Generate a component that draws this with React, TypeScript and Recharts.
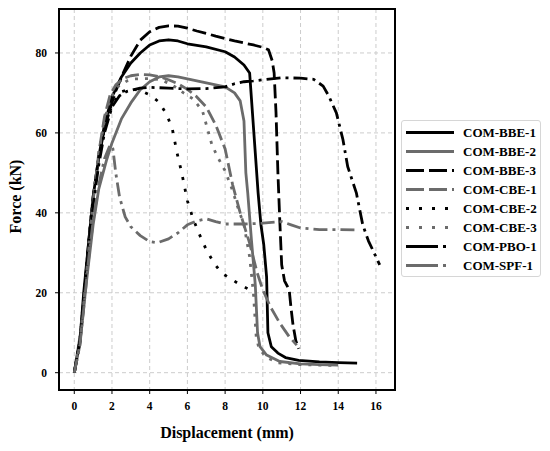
import { LineChart, Line, XAxis, YAxis, CartesianGrid, ReferenceArea } from "recharts"

// [displacement mm, force kN]
const BBE_1: [number, number][] = [
  [0, 0], [0.3, 8], [0.5, 20], [0.75, 32], [1.0, 44], [1.3, 54], [1.6, 62], [2.0, 69],
  [2.5, 74], [3.0, 77.5], [3.5, 80], [4.0, 82], [4.5, 83], [5.0, 83.3], [5.5, 83],
  [6.0, 82.3], [7.0, 81.5], [8.0, 80.3], [8.5, 79], [9.0, 77], [9.3, 75], [9.45, 65],
  [9.6, 55], [9.75, 45], [9.9, 37], [10.05, 32], [10.2, 24], [10.27, 10], [10.45, 6.5],
  [10.8, 4.9], [11.2, 3.8], [11.9, 3.1], [13, 2.7], [14, 2.5], [15, 2.4],
]
const BBE_2: [number, number][] = [
  [0, 0], [0.4, 12], [0.7, 25], [1.0, 37], [1.3, 46], [1.7, 53], [2.0, 57.5], [2.5, 63.5],
  [3.0, 67.5], [3.5, 70.8], [4.0, 72.8], [4.5, 74], [5.0, 74.3], [5.5, 74], [6.0, 73.5],
  [7.0, 72.5], [8.0, 71.5], [8.5, 70], [8.8, 68], [9.0, 63], [9.1, 50], [9.2, 45],
  [9.4, 33], [9.6, 22], [9.72, 10], [9.85, 6.5], [10.2, 4.4], [10.9, 2.8], [12, 2.2],
  [13, 2.0], [14, 1.9],
]
const BBE_3: [number, number][] = [
  [0, 0], [0.3, 8], [0.5, 18], [0.75, 32], [1.0, 44], [1.3, 54], [1.6, 61], [1.9, 66],
  [2.2, 70.5], [2.6, 75], [3.0, 79.2], [3.5, 83.2], [4.0, 85.3], [4.5, 86.4], [5.0, 86.8],
  [5.5, 86.7], [6.0, 86.2], [6.5, 85.5], [7.0, 84.9], [7.5, 84.2], [8.0, 83.6], [8.5, 83],
  [9.0, 82.5], [9.5, 82], [10.0, 81.4], [10.3, 80.8], [10.5, 78], [10.6, 75], [10.7, 65],
  [10.8, 50], [10.9, 38], [11.0, 27], [11.15, 23], [11.4, 20.7], [11.5, 16], [11.6, 12],
  [11.75, 8], [11.9, 6],
]
const CBE_1: [number, number][] = [
  [0, 0], [0.3, 7], [0.5, 17], [0.75, 30], [1.0, 43], [1.3, 55], [1.6, 64], [1.9, 69.5],
  [2.2, 72], [2.6, 73.6], [3.0, 74.3], [3.5, 74.6], [4.0, 74.5], [4.5, 74.1], [5.0, 73.3],
  [5.5, 72.3], [6.0, 70.9], [6.5, 69], [7.0, 66.5], [7.5, 62], [8.0, 56], [8.4, 47],
  [8.8, 40], [9.3, 32.4], [9.7, 25], [10.0, 20.7], [10.4, 16.5], [10.9, 12.4], [11.4, 9],
  [11.8, 6.9],
]
const CBE_2: [number, number][] = [
  [0, 0], [0.3, 8], [0.5, 19], [0.75, 32], [1.0, 44], [1.3, 54], [1.6, 61], [2.0, 67],
  [2.5, 70.3], [3.0, 71], [3.5, 70.6], [4.0, 69.5], [4.5, 67.7], [4.9, 64.6], [5.2, 61],
  [5.45, 55], [5.7, 50], [6.0, 43], [6.3, 38.5], [6.6, 35], [7.0, 30.8], [7.4, 27.5],
  [7.8, 25], [8.3, 23.5], [8.8, 22], [9.4, 20.5],
]
const CBE_3: [number, number][] = [
  [0, 0], [0.3, 7], [0.5, 17], [0.75, 30], [1.0, 43], [1.3, 55], [1.6, 63], [1.9, 68.5],
  [2.3, 71.5], [2.8, 73], [3.2, 73.5], [4.0, 73.6], [4.6, 73.3], [5.2, 72], [5.8, 70],
  [6.3, 68.5], [6.8, 65.5], [7.3, 57], [7.6, 54], [8.0, 50.5], [8.4, 45.5], [8.7, 41],
  [9.0, 37], [9.3, 29], [9.5, 20], [9.65, 9], [9.8, 6], [10.2, 3.8], [10.8, 2.5], [12, 2],
  [13, 1.9], [14, 1.8],
]
const PBO_1: [number, number][] = [
  [0, 0], [0.3, 8], [0.5, 18], [0.75, 31], [1.0, 42], [1.3, 52], [1.6, 60], [2.0, 66.5],
  [2.4, 69.3], [2.8, 70.4], [3.5, 71.2], [4.0, 71.4], [5.0, 71.2], [6.0, 71], [7.0, 71.1],
  [8.0, 71.5], [8.5, 72.3], [9.0, 72.8], [9.5, 73], [10.0, 73.3], [11.0, 73.8], [12.0, 73.7],
  [12.7, 73.4], [13.2, 71.7], [13.5, 69.2], [13.9, 65], [14.25, 58.3], [14.5, 51.6],
  [14.96, 45], [15.3, 37], [15.6, 33], [16.2, 27],
]
const SPF_1: [number, number][] = [
  [0, 0], [0.3, 7], [0.5, 16], [0.75, 28], [1.0, 38], [1.3, 47], [1.6, 53.5], [1.9, 57],
  [2.05, 56], [2.2, 50], [2.4, 44], [2.7, 39], [3.0, 36.5], [3.5, 34.3], [4.0, 32.8],
  [4.4, 32.5], [5.0, 33.5], [5.5, 35], [6.0, 37], [6.5, 38], [7.0, 38.5], [7.5, 37.8],
  [8.0, 37.2], [9.0, 37.2], [10.0, 37.4], [11.0, 37.8], [11.5, 37], [12.0, 36.2],
  [13.0, 35.8], [14.0, 35.8], [15.0, 35.7],
]

const SERIES_NAMES = [
  "COM-BBE-1", "COM-BBE-2", "COM-BBE-3", "COM-CBE-1",
  "COM-CBE-2", "COM-CBE-3", "COM-PBO-1", "COM-SPF-1",
]
const SERIES_DATA = [BBE_1, BBE_2, BBE_3, CBE_1, CBE_2, CBE_3, PBO_1, SPF_1]

const X_TICKS = [0, 2, 4, 6, 8, 10, 12, 14, 16]
const Y_TICKS = [0, 20, 40, 60, 80]

const BLACK = "#000000"
const GRAY = "#6b6b6b"
const FONT = "'Liberation Serif', 'Times New Roman', serif"

// line styles in series order
const STYLES = [
  { color: BLACK, dash: undefined, legendDash: undefined },
  { color: GRAY, dash: undefined, legendDash: undefined },
  { color: BLACK, dash: "14 5", legendDash: "18 5" },
  { color: GRAY, dash: "14 5", legendDash: "18 5" },
  { color: BLACK, dash: "3 9", legendDash: "3 10" },
  { color: GRAY, dash: "3 7", legendDash: "3 10" },
  { color: BLACK, dash: "14 5 3 5", legendDash: "32 5 3 8" },
  { color: GRAY, dash: "14 5 3 5", legendDash: "32 5 3 8" },
]

const toPoints = (pts: [number, number][]) => pts.map(([x, y]) => ({ x, y }))

const tickStyle = { fill: "#000", fontSize: 11.5, fontWeight: 700, fontFamily: FONT }

function XLabel({ viewBox }: any) {
  const cx = viewBox.x + viewBox.width / 2
  return (
    <text x={cx} y={viewBox.y + 48} textAnchor="middle" fontSize={16} fontWeight={700} fontFamily={FONT} fill="#000">
      Displacement (mm)
    </text>
  )
}

function YLabel({ viewBox }: any) {
  const cx = viewBox.x + 6
  const cy = viewBox.y + viewBox.height / 2 - 3
  return (
    <text
      x={cx}
      y={cy}
      transform={`rotate(-90 ${cx} ${cy})`}
      textAnchor="middle"
      dominantBaseline="central"
      fontSize={16}
      fontWeight={700}
      fontFamily={FONT}
      fill="#000"
    >
      Force (kN)
    </text>
  )
}

function LegendBox() {
  return (
    <div
      style={{
        position: "absolute",
        left: 401,
        top: 120,
        width: 140,
        height: 157,
        border: "1px solid #d6d6d6",
        borderRadius: 3,
        background: "#fff",
        boxSizing: "border-box",
        paddingTop: 2,
      }}
    >
      {SERIES_NAMES.map((name, i) => (
        <div key={name} style={{ display: "flex", alignItems: "center", height: 19 }}>
          <svg width={60} height={19} style={{ flex: "none" }}>
            <line
              x1={4}
              x2={52}
              y1={9.5}
              y2={9.5}
              stroke={STYLES[i].color}
              strokeWidth={3}
              strokeDasharray={STYLES[i].legendDash}
            />
          </svg>
          <span style={{ fontFamily: FONT, fontWeight: 700, fontSize: 13, color: "#000", marginLeft: 1 }}>{name}</span>
        </div>
      ))}
    </div>
  )
}

export default function App() {
  return (
    <div style={{ position: "absolute", left: 0, top: 0, width: 550, height: 451, background: "#fff" }}>
      <LineChart width={550} height={451} margin={{ top: 9, right: 155, bottom: 6, left: 9 }}>
        <CartesianGrid stroke="#cccccc" strokeDasharray="4 3" strokeWidth={1} />
        <XAxis
          type="number"
          dataKey="x"
          domain={[-0.81, 17.01]}
          ticks={X_TICKS}
          allowDataOverflow
          height={55}
          tickSize={4}
          tickMargin={8}
          tick={tickStyle}
          tickLine={{ stroke: "#000" }}
          axisLine={false}
          label={<XLabel />}
        />
        <YAxis
          type="number"
          domain={[-4.33, 91]}
          ticks={Y_TICKS}
          allowDataOverflow
          width={50}
          tickSize={4}
          tickMargin={8}
          tick={tickStyle}
          tickLine={{ stroke: "#000" }}
          axisLine={false}
          label={<YLabel />}
        />
        {SERIES_DATA.map((pts, i) => (
          <Line
            key={SERIES_NAMES[i]}
            data={toPoints(pts)}
            dataKey="y"
            name={SERIES_NAMES[i]}
            type="linear"
            dot={false}
            stroke={STYLES[i].color}
            strokeWidth={2.8}
            strokeDasharray={STYLES[i].dash}
            strokeLinejoin="round"
            isAnimationActive={false}
          />
        ))}
        <ReferenceArea
          x1={-0.81}
          x2={17.01}
          y1={-4.33}
          y2={91}
          fill="none"
          stroke="#000"
          strokeWidth={2}
          ifOverflow="visible"
        />
      </LineChart>
      <LegendBox />
    </div>
  )
}
